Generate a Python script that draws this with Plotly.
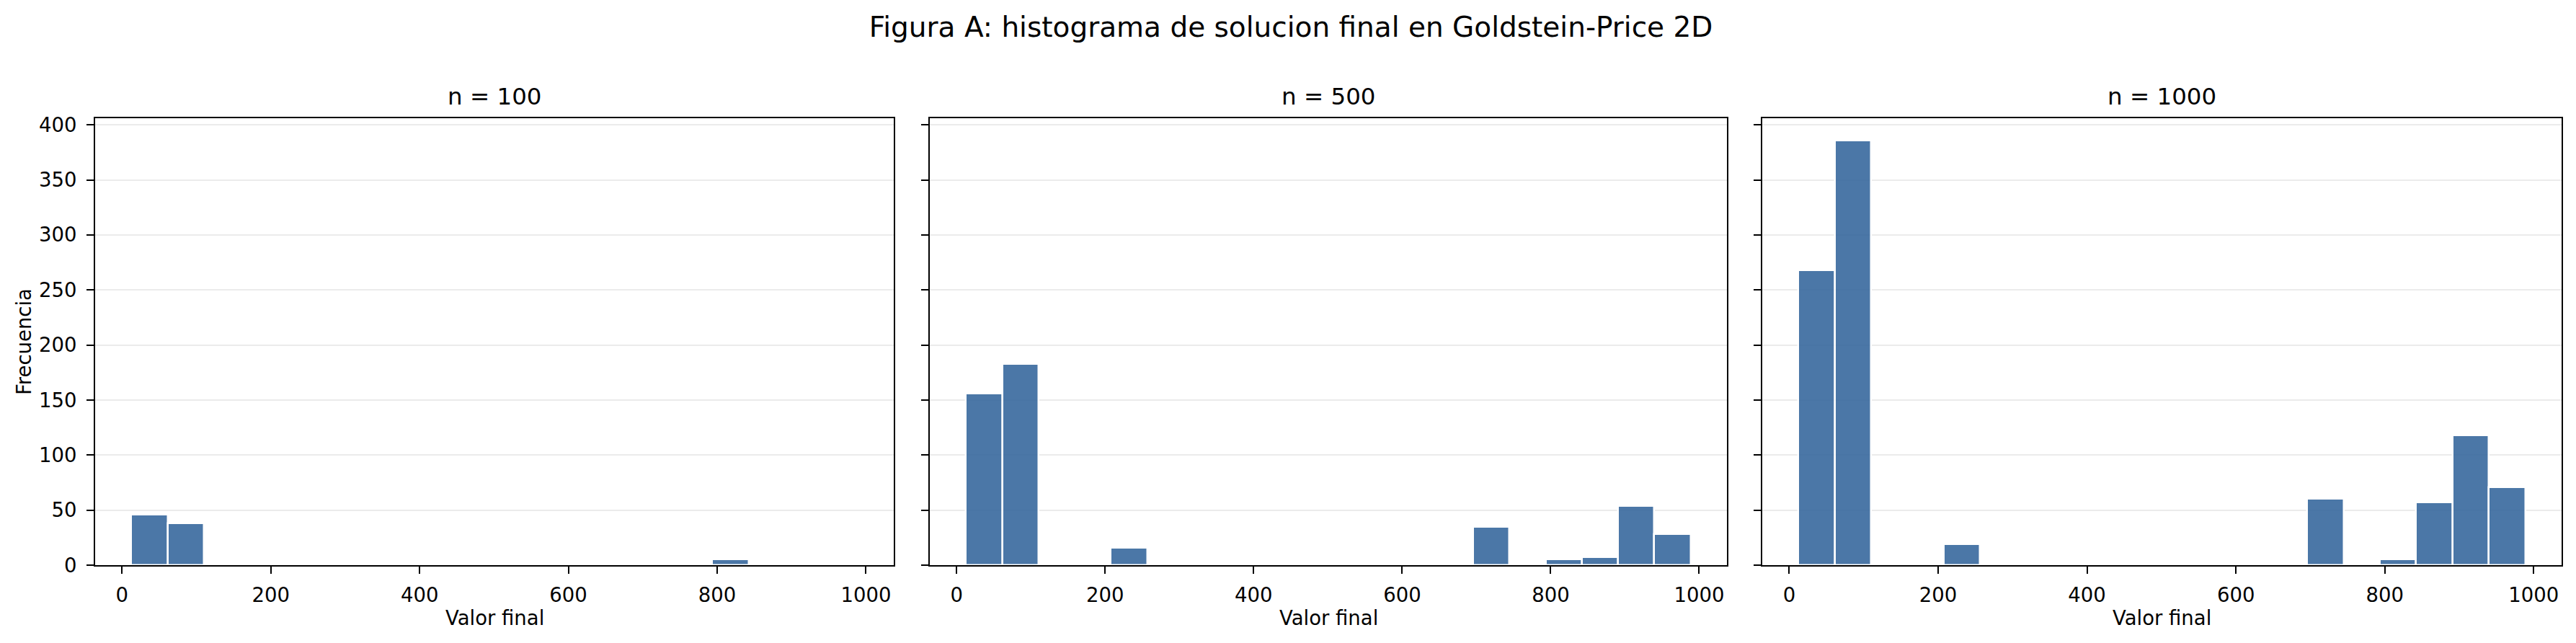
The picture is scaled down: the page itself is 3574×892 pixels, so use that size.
import plotly.graph_objects as go

# ---- data ----
panel_titles = ["n = 100", "n = 500", "n = 1000"]
bin_edges = [12.6, 61.4, 110.2, 159.0, 207.8, 256.6, 305.4, 354.2, 403.0, 451.8,
             500.6, 549.4, 598.2, 647.0, 695.8, 744.6, 793.4, 842.2, 891.0, 939.8, 988.6]
counts_n100 = [46, 38, 0, 0, 0, 0, 0, 0, 0, 0, 0, 0, 0, 0, 0, 0, 5, 0, 0, 0]
counts_n500 = [156, 183, 0, 0, 16, 0, 0, 0, 0, 0, 0, 0, 0, 0, 35, 0, 5, 7, 54, 28]
counts_n1000 = [268, 386, 0, 0, 19, 0, 0, 0, 0, 0, 0, 0, 0, 0, 60, 0, 5, 57, 118, 71]
x_ticks = [0, 200, 400, 600, 800, 1000]
y_ticks = [0, 50, 100, 150, 200, 250, 300, 350, 400]
suptitle = "Figura A: histograma de solucion final en Goldstein-Price 2D"
x_label = "Valor final"
y_label = "Frecuencia"

all_counts = [counts_n100, counts_n500, counts_n1000]

# ---- layout geometry (page body has an 8px default margin) ----
OFF = 8
W, H = 3574 - OFF, 892 - OFF
ML, MR, MT, MB = 132 - OFF, 20, 164 - OFF, 108
PW = W - ML - MR
domains = [
    [0.0, (1240 - 132) / PW],
    [(1290 - 132) / PW, (2396 - 132) / PW],
    [(2445 - 132) / PW, 1.0],
]

FONT = "DejaVu Sans"
BAR_COLOR = "#38699E"

centers = [(bin_edges[i] + bin_edges[i + 1]) / 2 for i in range(len(bin_edges) - 1)]
widths = [bin_edges[i + 1] - bin_edges[i] for i in range(len(bin_edges) - 1)]

fig = go.Figure()
for k, counts in enumerate(all_counts):
    sfx = "" if k == 0 else str(k + 1)
    fig.add_trace(go.Bar(
        x=centers, y=counts, width=widths,
        marker=dict(color=BAR_COLOR, line=dict(color="white", width=2.5)),
        opacity=0.9,
        xaxis="x" + sfx, yaxis="y" + sfx, showlegend=False,
    ))

axis_common = dict(
    showline=True, mirror=True, linecolor="black", linewidth=2.2,
    ticks="outside", ticklen=10, tickwidth=2.2, tickcolor="black",
    tickfont=dict(family=FONT, size=27.5, color="black"),
    zeroline=False,
)

layout = dict(
    width=W, height=H,
    margin=dict(l=ML, r=MR, t=MT, b=MB, pad=0),
    paper_bgcolor="white", plot_bgcolor="white",
    bargap=0,
    font=dict(family=FONT, color="black"),
    title=dict(text=suptitle, x=0.5, xanchor="center", y=1 - (37 - OFF) / H, yanchor="middle",
               font=dict(family=FONT, size=39, color="black")),
)

annotations = []
for k in range(3):
    sfx = "" if k == 0 else str(k + 1)
    layout["xaxis" + sfx] = dict(
        domain=domains[k], anchor="y" + sfx, range=[-36.2, 1037.4],
        tickvals=x_ticks, showgrid=False, ticklabelstandoff=6, **axis_common,
    )
    layout["yaxis" + sfx] = dict(
        domain=[0, 1], anchor="x" + sfx, range=[0, 406],
        tickvals=y_ticks, showgrid=True, gridcolor="#EBEBEB", gridwidth=2,
        showticklabels=(k == 0), ticklabelstandoff=8, **axis_common,
    )
    cx = (domains[k][0] + domains[k][1]) / 2
    annotations.append(dict(
        text=panel_titles[k], xref="paper", yref="paper", x=cx, y=1,
        xanchor="center", yanchor="bottom", yshift=9, showarrow=False,
        font=dict(family=FONT, size=32.5, color="black"),
    ))
    annotations.append(dict(
        text=x_label, xref="paper", yref="paper", x=cx, y=0,
        xanchor="center", yanchor="top", yshift=-55, showarrow=False,
        font=dict(family=FONT, size=27.5, color="black"),
    ))

annotations.append(dict(
    text=y_label, xref="paper", yref="paper", x=0, y=0.5,
    xanchor="center", yanchor="middle", xshift=-99, textangle=-90, showarrow=False,
    font=dict(family=FONT, size=27.5, color="black"),
))
layout["annotations"] = annotations

fig.update_layout(**layout)
fig.write_html("out.html")
